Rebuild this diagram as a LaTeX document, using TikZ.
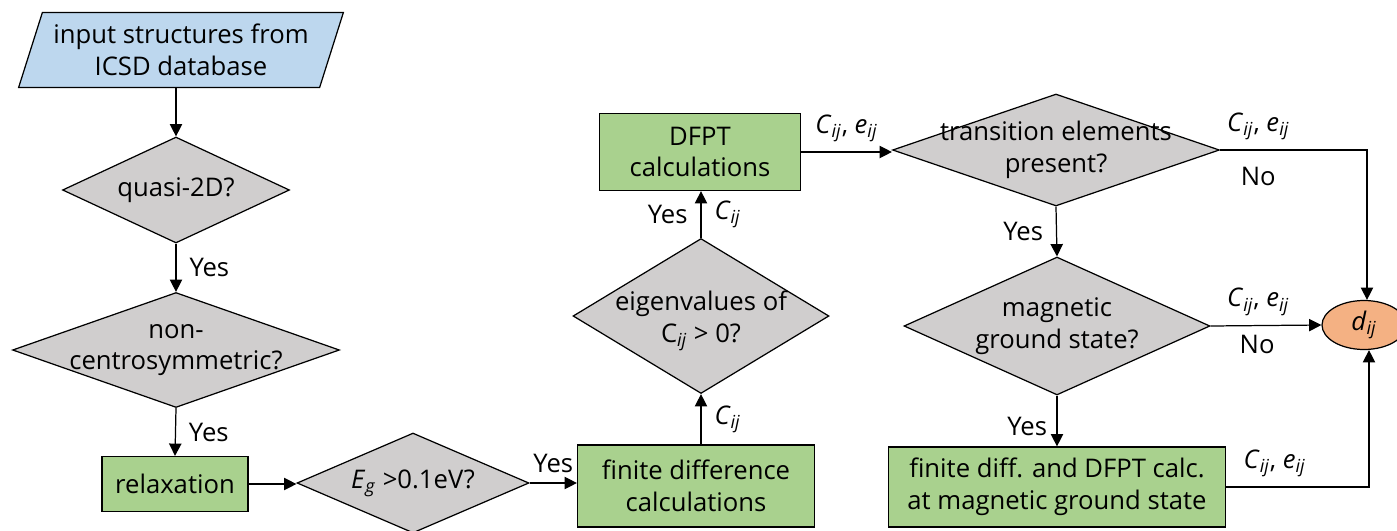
\documentclass[tikz,border=0pt]{standalone}
\usepackage{fontspec}
\setmainfont{Open Sans}
\usetikzlibrary{shapes.geometric, arrows.meta, positioning}
\definecolor{inblue}{RGB}{189,215,238}
\definecolor{procgreen}{RGB}{169,209,142}
\definecolor{decgray}{RGB}{208,206,206}
\definecolor{outorange}{RGB}{244,177,131}
\newcommand{\sub}[2]{\textit{#1}\textsubscript{\textit{#2}}}

\begin{document}
\begin{tikzpicture}[x=0.02cm, y=-0.02cm, font=\fontsize{14.6}{18}\selectfont,
    >={Triangle[length=7pt,width=7pt]}, line width=0.7pt,
    inbox/.style={trapezium, trapezium left angle=67, trapezium right angle=113, trapezium stretches=true, draw, fill=inblue, align=center, minimum width=6.5cm, minimum height=1.5cm, inner sep=0pt},
    dec/.style={diamond, draw, fill=decgray, inner sep=0pt},
    proc/.style={draw, fill=procgreen, align=center, inner sep=0pt},
    txt/.style={align=center, inner sep=0pt},
    flow/.style={->}]
    \useasboundingbox (0,0) rectangle (1397,531);
    % left column
    \node[inbox] (in) at (181,50) {input structures from\\ICSD database};
    \node[dec, minimum width=4.54cm, minimum height=2.12cm] (q2d) at (176,190) {};
    \node[txt] (q2dt) at (q2d) {quasi-2D?};
    \node[dec, minimum width=6.54cm, minimum height=2.3cm] (ncs) at (176,350) {};
    \node[txt] (ncst) at (ncs) {non-\\centrosymmetric?};
    \node[proc, minimum width=2.92cm, minimum height=1.1cm] (relax) at (175,484) {relaxation};
    % band gap and elastic constants
    \node[dec, minimum width=4.64cm, minimum height=2.0cm] (gap) at (413,483) {};
    \node[txt] (gapt) at (gap) {\sub{E}{g} >0.1eV?};
    \node[proc, minimum width=4.74cm, minimum height=1.64cm] (fd) at (696,486) {finite difference\\calculations};
    \node[dec, minimum width=5.12cm, minimum height=3.1cm] (eig) at (701,316) {};
    \node[txt] (eigt) at ([yshift=-0.1cm]eig) {eigenvalues of\\C\textsubscript{\textit{ij}} > 0?};
    \node[proc, minimum width=4.02cm, minimum height=1.54cm] (dfpt) at (700,152) {DFPT\\calculations};
    % magnetism branch
    \node[dec, minimum width=6.54cm, minimum height=2.24cm] (tm) at (1056,150) {};
    \node[txt] (tmt) at (tm) {transition elements\\present?};
    \node[dec, minimum width=6.12cm, minimum height=2.76cm] (mag) at (1057,326) {};
    \node[txt] (magt) at (mag) {magnetic\\ground state?};
    \node[proc, minimum width=6.74cm, minimum height=1.6cm] (fdm) at (1057,487) {finite diff. and DFPT calc.\\at magnetic ground state};
    \node[ellipse, draw, fill=outorange, minimum width=1.68cm, minimum height=0.98cm, inner sep=0pt] (dij) at (1364,325) {\sub{d}{ij}};

    \draw[flow] (in.south -| q2d.north) -- (q2d.north);
    \draw[flow] (q2d.south) -- node[right=4pt] {Yes} (ncs.north);
    \draw[flow] (ncs.south) -- node[right=4pt] {Yes} (relax.north);
    \draw[flow] (relax.east) -- (gap.west |- relax.east);
    \draw[flow] (gap.east) -- node[above=2pt] {Yes} (fd.west |- gap.east);
    \draw[flow] (eig.south |- fd.north) -- node[right=4pt] {\sub{C}{ij}} (eig.south);
    \draw[flow] (eig.north) -- node[left=4pt] {Yes} node[right=4pt] {\sub{C}{ij}} (dfpt.south -| eig.north);
    \draw[flow] (dfpt.east) -- node[above=2pt] {\sub{C}{ij}, \sub{e}{ij}} (tm.west |- dfpt.east);
    \draw[flow] (tm.south) -- node[left=4pt] {Yes} (mag.north);
    \draw[flow] (mag.south) -- node[left=2pt, pos=0.6] {Yes} (fdm.north);
    \draw[flow] (tm.east) -| node[above=2pt, pos=0.13] {\sub{C}{ij}, \sub{e}{ij}} node[below=6pt, pos=0.13] {No} ([xshift=0.06cm]dij.north);
    \draw[flow] (mag.east) -- node[above=2pt, pos=0.43] {\sub{C}{ij}, \sub{e}{ij}} node[below=2pt, pos=0.42] {No} (dij.west);
    \draw[flow] (fdm.east) -| node[above=2pt, pos=0.17] {\sub{C}{ij}, \sub{e}{ij}} ([xshift=0.1cm]dij.south);
\end{tikzpicture}
\end{document}
